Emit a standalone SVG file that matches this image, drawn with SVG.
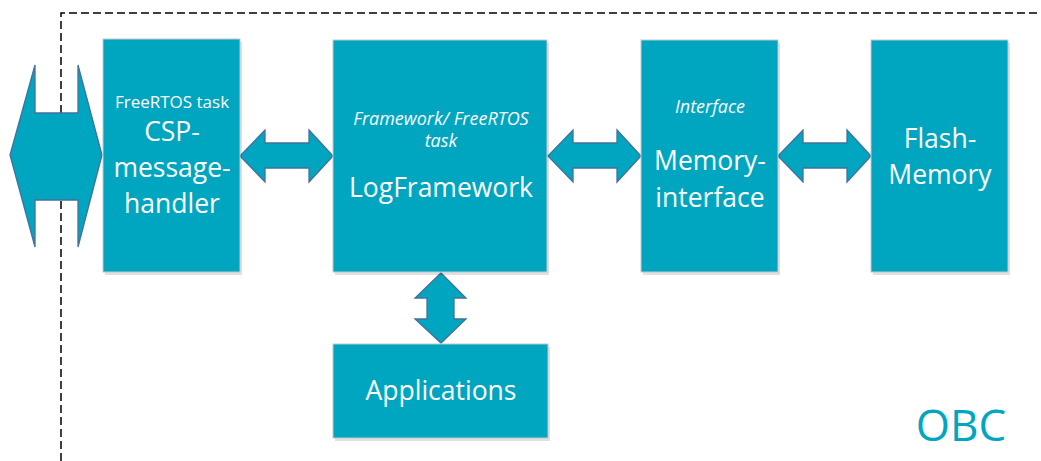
<svg xmlns="http://www.w3.org/2000/svg" width="1041" height="461" viewBox="0 0 1041 461">
<style>
.box{fill:#00A5BF;stroke:#C4C8CC;stroke-width:1}
.shadow{fill:#000;opacity:0.12}
.arrow{fill:#00A5BF;stroke:#41719C;stroke-width:1.3;stroke-linejoin:miter}
.t{font-family:"Open Sans","Liberation Sans",sans-serif;fill:#FFFFFF;text-anchor:middle}
.big{font-size:26.5px}
.small{font-size:17px}
.it{font-style:italic;font-size:18px}
.frame{fill:none;stroke:#000;stroke-width:1.5;stroke-dasharray:8,4}
</style>
<rect width="1041" height="461" fill="#FFFFFF"/>
<path class="frame" d="M61,461 V13 H1041"/>
<g id="connectors">
<polygon class="arrow" points="10,155 35,65 35,113 78,113 78,65 102,155 78,247 78,200 35,200 35,247"/>
<polygon class="arrow" points="240,156 265,130 265,143 309,143 309,130 333,156 309,182 309,168 265,168 265,182"/>
<polygon class="arrow" points="548,156 573,130 573,143 617,143 617,130 641,156 617,182 617,168 573,168 573,182"/>
<polygon class="arrow" points="778,156 803,130 803,143 847,143 847,130 871,156 847,182 847,168 803,168 803,182"/>
<polygon class="arrow" points="441,273 466,298 454,298 454,319 466,319 441,343 415,319 427,319 427,298 415,298"/>
</g>
<g id="csp">
<rect class="shadow" x="105" y="42" width="137" height="233"/>
<rect class="box" x="103" y="39" width="137" height="233"/>
<text class="t small" x="172" y="108">FreeRTOS task</text>
<text class="t big" x="172" y="141">CSP-</text>
<text class="t big" x="172" y="177">message-</text>
<text class="t big" x="172" y="213">handler</text>
</g>
<g id="logframework">
<rect class="shadow" x="335" y="43" width="214" height="232"/>
<rect class="box" x="333" y="40" width="214" height="232"/>
<text class="t small it" x="441" y="125">Framework/ FreeRTOS</text>
<text class="t small it" x="441" y="147">task</text>
<text class="t big" x="441" y="197">LogFramework</text>
</g>
<g id="memoryinterface">
<rect class="shadow" x="643" y="43" width="137" height="232"/>
<rect class="box" x="641" y="40" width="137" height="232"/>
<text class="t small it" x="710" y="113">Interface</text>
<text class="t big" x="710" y="170">Memory-</text>
<text class="t big" x="710" y="207">interface</text>
</g>
<g id="flash">
<rect class="shadow" x="873" y="43" width="137" height="232"/>
<rect class="box" x="871" y="40" width="137" height="232"/>
<text class="t big" x="940" y="148">Flash-</text>
<text class="t big" x="940" y="184">Memory</text>
</g>
<g id="applications">
<rect class="shadow" x="335" y="347" width="215" height="94"/>
<rect class="box" x="333" y="344" width="215" height="94"/>
<text class="t big" x="441" y="400">Applications</text>
</g>
<g id="obc">
<text x="961" y="441" style="font-family:'Open Sans','Liberation Sans',sans-serif;font-size:44px;fill:#00A5BF;text-anchor:middle">OBC</text>
</g>
</svg>
